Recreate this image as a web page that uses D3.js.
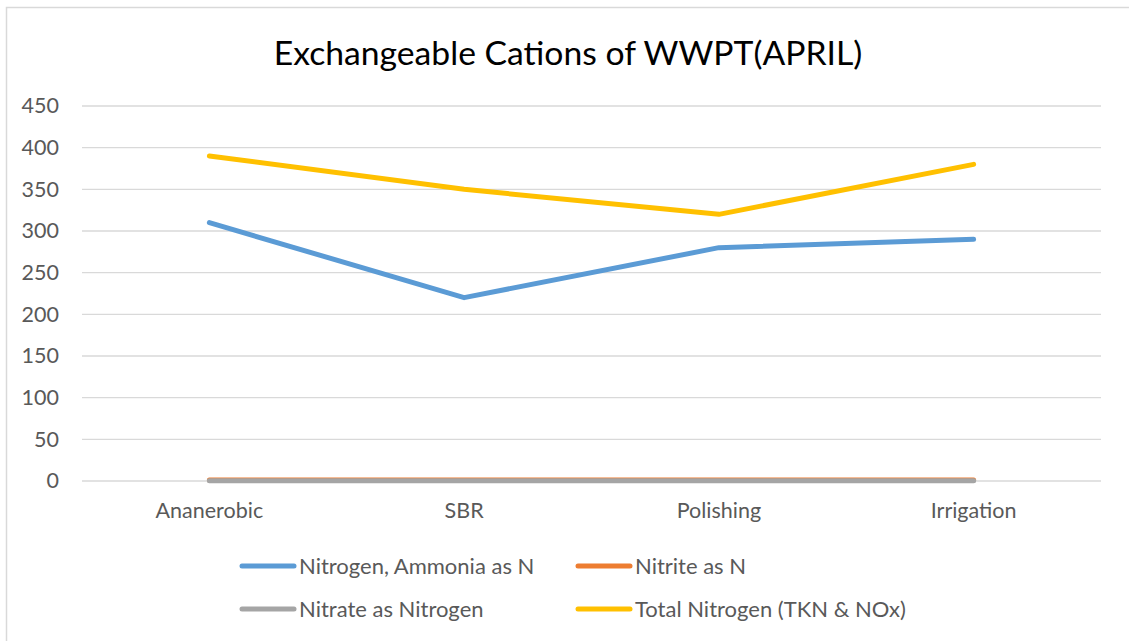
<!DOCTYPE html>
<html>
<head>
<meta charset="utf-8">
<script src="https://cdn.jsdelivr.net/npm/d3@7"></script>
<style>
  body { margin: 0; background: #fff; }
  svg text { font-family: Lato, "Open Sans", sans-serif; }
</style>
</head>
<body>
<div id="chart"></div>
<script>
// categories along the x axis
var stages = ["Ananerobic", "SBR", "Polishing", "Irrigation"];
// series values
var ammonia = [310, 220, 280, 290];
var nitrite = [1.2, 1.2, 1.2, 1.2];
var nitrate = [0.3, 0.3, 0.3, 0.3];
var totalN = [390, 350, 320, 380];
var yTicks = [0, 50, 100, 150, 200, 250, 300, 350, 400, 450];

var series = [
  {name: "Nitrogen, Ammonia as N", values: ammonia, color: "#5b9bd5"},
  {name: "Nitrite as N", values: nitrite, color: "#ed7d31"},
  {name: "Nitrate as Nitrogen", values: nitrate, color: "#a5a5a5"},
  {name: "Total Nitrogen (TKN & NOx)", values: totalN, color: "#ffc000"}
];

var width = 1129, height = 641;
var svg = d3.select("#chart").append("svg")
  .attr("width", width)
  .attr("height", height);

// chart frame, runs off the right and bottom of the picture
svg.append("rect")
  .attr("x", 6.5).attr("y", 7.5)
  .attr("width", 1140).attr("height", 660)
  .attr("fill", "#fff")
  .attr("stroke", "#d9d9d9")
  .attr("stroke-width", 1.5);

svg.append("text")
  .attr("x", 568).attr("y", 65)
  .attr("text-anchor", "middle")
  .attr("font-size", 33.7)
  .attr("fill", "#000")
  .text("Exchangeable Cations of WWPT(APRIL)");

var x = d3.scaleBand().domain(stages).range([82, 1101]);
var y = d3.scaleLinear().domain([0, 450]).range([481, 106]);

// gridlines
svg.append("g").selectAll("line").data(yTicks).enter()
  .append("line")
  .attr("x1", 82).attr("x2", 1101)
  .attr("y1", function(d) { return y(d); })
  .attr("y2", function(d) { return y(d); })
  .attr("stroke", "#d9d9d9")
  .attr("stroke-width", 1.3);

// y axis labels
var yAxis = d3.axisLeft(y).tickValues(yTicks).tickSize(0).tickPadding(23);
var gy = svg.append("g").attr("transform", "translate(82,0)").call(yAxis);
gy.select(".domain").remove();
gy.selectAll("text")
  .attr("font-size", 21.5)
  .attr("font-family", "Lato, sans-serif")
  .attr("fill", "#595959");

// x axis labels
var xAxis = d3.axisBottom(x).tickSize(0).tickPadding(22);
var gx = svg.append("g").attr("transform", "translate(0,481)").call(xAxis);
gx.select(".domain").remove();
gx.selectAll("text")
  .attr("font-size", 21.5)
  .attr("font-family", "Lato, sans-serif")
  .attr("fill", "#595959");

var line = d3.line()
  .x(function(d, i) { return x(stages[i]) + x.bandwidth() / 2; })
  .y(function(d) { return y(d); });

svg.append("g").selectAll("path").data(series).enter()
  .append("path")
  .attr("d", function(d) { return line(d.values); })
  .attr("fill", "none")
  .attr("stroke", function(d) { return d.color; })
  .attr("stroke-width", 5)
  .attr("stroke-linecap", "round")
  .attr("stroke-linejoin", "round");

// legend, two columns
var legendPos = [[240, 566], [576, 566], [240, 609], [576, 609]];
var lg = svg.append("g").selectAll("g").data(series).enter()
  .append("g")
  .attr("transform", function(d, i) { return "translate(" + legendPos[i][0] + "," + legendPos[i][1] + ")"; });
lg.append("line")
  .attr("x1", 2).attr("x2", 54)
  .attr("stroke", function(d) { return d.color; })
  .attr("stroke-width", 5)
  .attr("stroke-linecap", "round");
lg.append("text")
  .attr("x", 59).attr("y", 7.5)
  .attr("font-size", 22)
  .attr("fill", "#595959")
  .text(function(d) { return d.name; });
</script>
</body>
</html>
